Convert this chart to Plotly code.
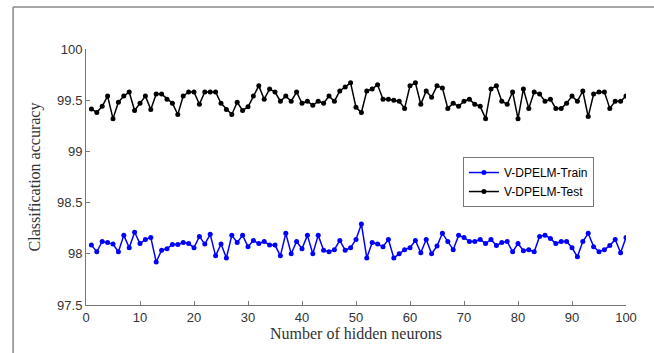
import plotly.graph_objects as go

neurons = list(range(1, 101))

train_acc = [
    98.085, 98.02, 98.12, 98.11, 98.095, 98.02, 98.18, 98.06, 98.21, 98.10,
    98.14, 98.16, 97.92, 98.035, 98.05, 98.09, 98.09, 98.11, 98.10, 98.06,
    98.17, 98.095, 98.19, 97.98, 98.095, 97.96, 98.18, 98.11, 98.18, 98.07,
    98.13, 98.10, 98.12, 98.085, 98.085, 97.98, 98.20, 98.00, 98.12, 98.05,
    98.18, 98.00, 98.18, 98.035, 98.02, 98.04, 98.13, 98.035, 98.06, 98.14,
    98.29, 97.96, 98.11, 98.095, 98.07, 98.14, 97.96, 98.00, 98.04, 98.06,
    98.13, 98.01, 98.14, 98.00, 98.075, 98.20, 98.12, 98.04, 98.18, 98.16,
    98.12, 98.12, 98.14, 98.10, 98.14, 98.08, 98.11, 98.12, 98.02, 98.10,
    98.03, 98.04, 98.02, 98.17, 98.18, 98.15, 98.10, 98.12, 98.12, 98.06,
    97.97, 98.12, 98.20, 98.07, 98.02, 98.04, 98.08, 98.14, 98.01, 98.16,
]

test_acc = [
    99.415, 99.38, 99.44, 99.54, 99.32, 99.48, 99.54, 99.58, 99.40, 99.47,
    99.54, 99.41, 99.56, 99.56, 99.51, 99.47, 99.36, 99.54, 99.58, 99.58,
    99.46, 99.58, 99.58, 99.58, 99.47, 99.41, 99.36, 99.48, 99.40, 99.435,
    99.54, 99.64, 99.51, 99.61, 99.58, 99.49, 99.54, 99.49, 99.58, 99.47,
    99.49, 99.45, 99.49, 99.47, 99.54, 99.49, 99.59, 99.63, 99.67, 99.43,
    99.38, 99.59, 99.61, 99.65, 99.51, 99.51, 99.50, 99.49, 99.42, 99.64,
    99.67, 99.46, 99.59, 99.53, 99.64, 99.62, 99.42, 99.47, 99.44, 99.49,
    99.51, 99.46, 99.44, 99.32, 99.61, 99.64, 99.49, 99.46, 99.58, 99.32,
    99.61, 99.42, 99.58, 99.56, 99.49, 99.51, 99.42, 99.42, 99.47, 99.54,
    99.49, 99.59, 99.34, 99.56, 99.58, 99.58, 99.42, 99.49, 99.49, 99.54,
]

x_ticks = [0, 10, 20, 30, 40, 50, 60, 70, 80, 90, 100]
y_ticks = [97.5, 98, 98.5, 99, 99.5, 100]
y_tick_text = ["97.5", "98", "98.5", "99", "99.5", "100"]

fig = go.Figure()
fig.add_trace(go.Scatter(
    x=neurons, y=train_acc, mode="lines+markers", name="V-DPELM-Train",
    line=dict(color="#0000ff", width=1.5),
    marker=dict(color="#0000ff", size=5),
))
fig.add_trace(go.Scatter(
    x=neurons, y=test_acc, mode="lines+markers", name="V-DPELM-Test",
    line=dict(color="#000000", width=1.5),
    marker=dict(color="#000000", size=5),
))

axis_common = dict(
    showline=True, linecolor="#777777", linewidth=1,
    ticks="inside", ticklen=4, tickcolor="#777777", tickwidth=1,
    showgrid=False, zeroline=False, mirror=False,
    tickfont=dict(family="Liberation Sans, Arial", size=13, color="#333333"),
    title_font=dict(family="Liberation Serif, Times New Roman", size=16, color="#333333"),
)

fig.update_xaxes(
    range=[0, 100], tickvals=x_ticks,
    title_text="Number of hidden neurons", title_standoff=4,
    **axis_common,
)
fig.update_yaxes(
    range=[97.5, 100], tickvals=y_ticks, ticktext=y_tick_text,
    title_text="Classification accuracy", title_standoff=12,
    **axis_common,
)

# outer gray frame of the figure (top and left edges visible)
fig.add_shape(type="line", xref="paper", yref="paper",
              x0=-0.135, x1=1.2, y0=1.164, y1=1.164,
              line=dict(color="#888888", width=1.5))
fig.add_shape(type="line", xref="paper", yref="paper",
              x0=-0.135, x1=-0.135, y0=1.164, y1=-0.3,
              line=dict(color="#888888", width=1.5))

fig.update_layout(
    width=654, height=353,
    margin=dict(l=86, r=28, t=49, b=48),
    paper_bgcolor="white", plot_bgcolor="white",
    showlegend=True,
    legend=dict(
        x=0.698, y=0.578, xanchor="left", yanchor="top",
        bordercolor="#777777", borderwidth=1, bgcolor="white",
        font=dict(family="Liberation Sans, Arial", size=12, color="#000000"),
        tracegroupgap=0, itemwidth=30,
    ),
)

fig.write_html("out.html")
